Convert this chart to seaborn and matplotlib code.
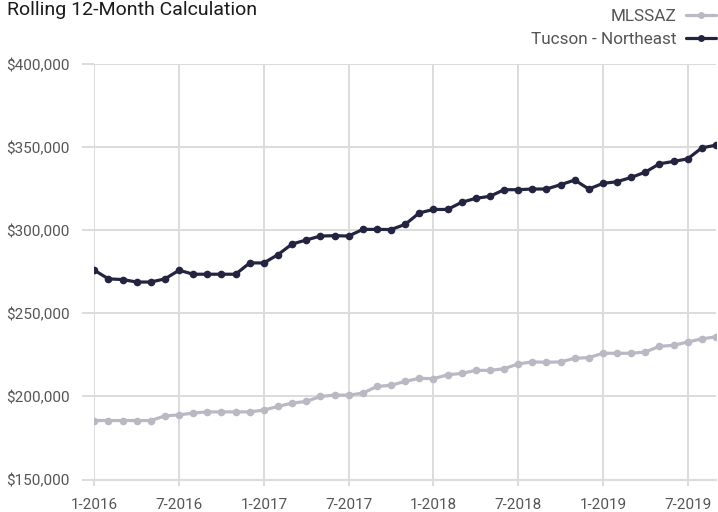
import matplotlib
matplotlib.use("Agg")
import matplotlib.pyplot as plt
from matplotlib import font_manager
from matplotlib.ticker import FuncFormatter
import numpy as np
import pandas as pd
import seaborn as sns

# Monthly rolling 12-month median price, Jan 2016 - Sep 2019
months = pd.period_range("2016-01", "2019-09", freq="M")
month_labels = [f"{p.month}-{p.year}" for p in months]

tucson_northeast = [
    276000, 270800, 270400, 268900, 268900, 270800, 276000, 273600, 273600, 273600,
    273600, 280400, 280400, 285400, 291800, 294200, 296600, 296800, 296600, 300600,
    300600, 300500, 303600, 310500, 312600, 312600, 316900, 319300, 320500, 324500,
    324500, 324900, 324900, 327500, 330300, 324900, 328300, 329300, 331900, 335100,
    340100, 341500, 343100, 349700, 351300,
]
mlssaz = [
    185500, 185500, 185500, 185500, 185500, 188300, 188900, 190000, 190700, 190700,
    190700, 190700, 191800, 194000, 196000, 197000, 200000, 200800, 200800, 202000,
    206000, 206700, 209100, 210900, 210700, 213000, 213900, 215700, 215700, 216700,
    219600, 220800, 220600, 220800, 223000, 223400, 226000, 226000, 226000, 226800,
    230200, 230800, 232800, 234700, 235900,
]
series_names = ["MLSSAZ", "Tucson - Northeast"]
series_colors = ["#b9b9c4", "#23243f"]

y_ticks = [150000, 200000, 250000, 300000, 350000, 400000]
x_tick_every = 6

df = pd.DataFrame({
    "idx": np.tile(np.arange(len(months)), 2),
    "value": mlssaz + tucson_northeast,
    "series": np.repeat(series_names, len(months)),
})

sns.set_theme(style="white")
installed = {f.name for f in font_manager.fontManager.ttflist}
base_font = "Liberation Sans Narrow" if "Liberation Sans Narrow" in installed else "Roboto"
plt.rcParams["font.family"] = [base_font, "DejaVu Sans"]

grid_color = "#dcdcdc"
text_color = "#555555"

fig = plt.figure(figsize=(7.18, 5.12), dpi=100)
ax = fig.add_axes([94.3 / 718, 1 - 479.5 / 512, (716 - 94.3) / 718, (479.5 - 64.3) / 512])

sns.lineplot(
    data=df, x="idx", y="value", hue="series", hue_order=series_names,
    palette=series_colors, marker="o", markersize=5.5, markeredgewidth=0,
    linewidth=2.3, ax=ax, legend=False, zorder=3,
)

ax.set_xlim(0, len(months) - 1)
ax.set_ylim(y_ticks[0], y_ticks[-1])
ax.set_yticks(y_ticks)
ax.yaxis.set_major_formatter(FuncFormatter(lambda v, _: f"${v:,.0f}"))
xt = np.arange(0, len(months), x_tick_every)
ax.set_xticks(xt)
ax.set_xticklabels([month_labels[i] for i in xt])
ax.set_xlabel("")
ax.set_ylabel("")

ax.grid(True, color=grid_color, linewidth=1.4, zorder=0)
for side in ["top", "right", "left"]:
    ax.spines[side].set_visible(False)
ax.spines["bottom"].set_color(grid_color)
ax.spines["bottom"].set_linewidth(1.6)

ax.tick_params(axis="y", length=9, width=1.4, color=grid_color, pad=9,
               labelsize=11, labelcolor=text_color, left=True)
ax.tick_params(axis="x", length=4.5, width=1.4, color=grid_color, pad=8.5,
               labelsize=11, labelcolor=text_color, bottom=True)

fig.text(7 / 718, 1 - 10 / 512, "Rolling 12-Month Calculation", fontsize=14,
         color="#1a1a1a", ha="left", va="center")

handles = [
    plt.Line2D([], [], color=c, marker="o", markersize=5, markeredgewidth=0, linewidth=2.3)
    for c in series_colors
]
fig.legend(handles, series_names, loc="upper right", bbox_to_anchor=(1.0, 1 - 7 / 512),
           frameon=False, markerfirst=False, fontsize=12.3, labelcolor=text_color,
           handlelength=1.8, handletextpad=0.55, labelspacing=0.5,
           borderaxespad=0.0, borderpad=0.1)

fig.savefig("out.png", dpi=100)
